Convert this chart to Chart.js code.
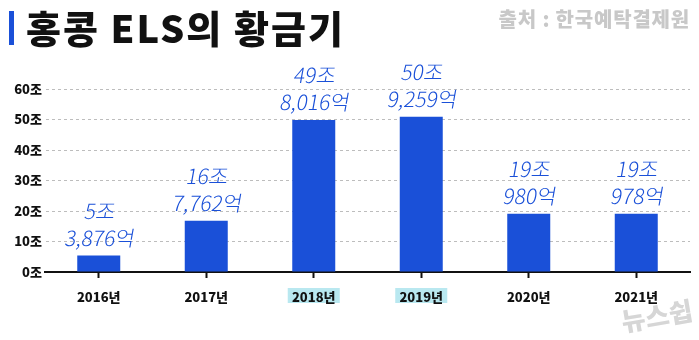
<!DOCTYPE html>
<html>
<head>
<meta charset="utf-8">
<script src="https://cdn.jsdelivr.net/npm/chart.js@4/dist/chart.umd.min.js"></script>
<style>
  html, body { margin: 0; padding: 0; background: #fff; }
  #wrap { width: 699px; height: 340px; position: relative; }
</style>
</head>
<body>
<div id="wrap"><canvas id="chart"></canvas></div>
<script>
const years = ['2016년', '2017년', '2018년', '2019년', '2020년', '2021년'];
// 발행액 (조 원)
const amounts = [5.3876, 16.7762, 49.8016, 50.9259, 19.098, 19.0978];
const noteTop = ['5조', '16조', '49조', '50조', '19조', '19조'];
const noteBottom = ['3,876억', '7,762억', '8,016억', '9,259억', '980억', '978억'];
const highlighted = ['2018년', '2019년'];
const yTicks = [0, 10, 20, 30, 40, 50, 60];

const BLUE = '#1a50d8';
const KR = '"Noto Sans CJK KR", "Noto Sans", sans-serif';

const decor = {
  id: 'decor',
  beforeDraw(chart) {
    const { ctx } = chart;
    const x = chart.scales.x;
    ctx.save();
    ctx.fillStyle = '#fff';
    ctx.fillRect(0, 0, chart.width, chart.height);
    // label highlight
    ctx.fillStyle = '#b9e8f0';
    highlighted.forEach(label => {
      const cx = x.getPixelForValue(years.indexOf(label));
      ctx.fillRect(cx - 26, 288, 52, 15);
    });
    ctx.restore();
  },
  afterDraw(chart) {
    const { ctx } = chart;
    const x = chart.scales.x;
    const y = chart.scales.y;
    ctx.save();

    // title
    ctx.fillStyle = BLUE;
    ctx.fillRect(9, 11, 5, 34);
    ctx.fillStyle = '#111';
    ctx.font = `900 38px ${KR}`;
    ctx.letterSpacing = '2px';
    ctx.textBaseline = 'middle';
    ctx.textAlign = 'left';
    ctx.fillText('홍콩 ELS의 황금기', 26, 29);

    // source
    ctx.fillStyle = '#c8c8c8';
    ctx.font = `900 20px ${KR}`;
    ctx.letterSpacing = '0.8px';
    ctx.textAlign = 'right';
    ctx.fillText('출처 : 한국예탁결제원', 690, 19);
    ctx.letterSpacing = '0px';

    // handwritten notes
    ctx.fillStyle = BLUE;
    ctx.font = `300 21px ${KR}`;
    ctx.textAlign = 'center';
    ctx.textBaseline = 'alphabetic';
    amounts.forEach((v, i) => {
      const cx = x.getPixelForValue(i);
      const top = y.getPixelForValue(v);
      [[noteBottom[i], top - 10], [noteTop[i], top - 37]].forEach(([t, by]) => {
        ctx.save();
        ctx.translate(cx, by);
        ctx.transform(1, 0, -0.18, 1, 0, 0);
        ctx.fillText(t, 0, 0);
        ctx.restore();
      });
    });

    // logo
    ctx.save();
    ctx.translate(657, 316);
    ctx.rotate(-0.17);
    ctx.fillStyle = '#d6d6d6';
    ctx.font = `900 26px ${KR}`;
    ctx.textAlign = 'center';
    ctx.textBaseline = 'middle';
    ctx.fillText('뉴스쉽', 0, 0);
    ctx.restore();

    ctx.restore();
  }
};

new Chart(document.getElementById('chart'), {
  type: 'bar',
  data: {
    labels: years,
    datasets: [{
      data: amounts,
      backgroundColor: BLUE,
      borderWidth: 0,
      categoryPercentage: 0.8,
      barPercentage: 0.5
    }]
  },
  options: {
    responsive: true,
    maintainAspectRatio: false,
    animation: false,
    layout: { padding: { top: 89, right: 9, left: 0, bottom: 0 } },
    plugins: { legend: { display: false }, tooltip: { enabled: false } },
    scales: {
      x: {
        offset: true,
        afterFit: (s) => { s.height = 68; },
        grid: {
          offset: false,
          drawOnChartArea: false,
          drawTicks: true,
          tickLength: 6,
          tickWidth: 2,
          tickColor: '#111'
        },
        border: { display: true, color: '#111', width: 2 },
        ticks: {
          color: '#111',
          padding: 11,
          font: { family: KR, size: 13, weight: '900' }
        }
      },
      y: {
        min: 0,
        max: 60,
        afterFit: (s) => { s.width = 45; },
        afterBuildTicks: (s) => { s.ticks = yTicks.map(v => ({ value: v })); },
        grid: {
          drawTicks: false,
          color: (c) => c.tick && c.tick.value === 0 ? 'rgba(0,0,0,0)' : '#bdbdbd',
          lineWidth: 1
        },
        border: { display: true, color: 'rgba(0,0,0,0)', dash: [3, 3] },
        ticks: {
          color: '#111',
          padding: 3,
          font: { family: KR, size: 13, weight: '900' },
          callback: (v) => v + '조'
        }
      }
    }
  },
  plugins: [decor]
});
</script>
</body>
</html>
